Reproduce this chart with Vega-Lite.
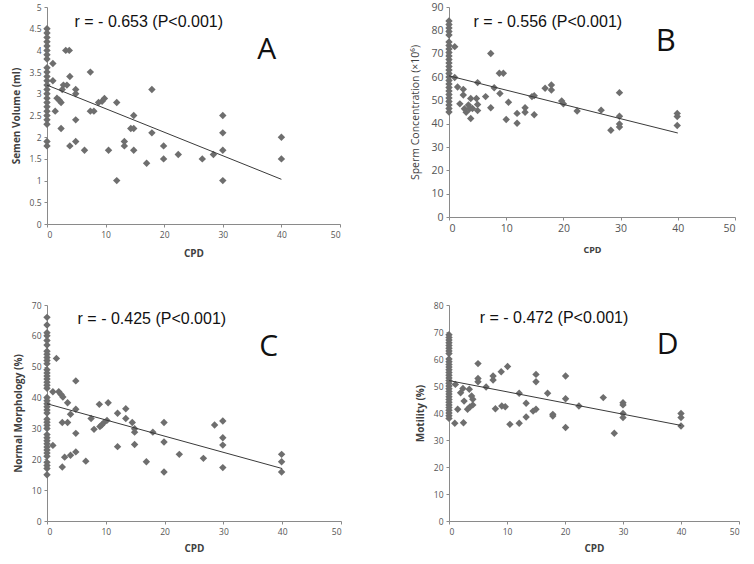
{
  "$schema": "https://vega.github.io/schema/vega-lite/v6.json",
  "background": "white",
  "padding": {"left": 11, "top": 2, "right": 4, "bottom": 4},
  "columns": 2,
  "bounds": "flush",
  "spacing": {"row": 81, "column": 108},
  "config": {
    "view": {"stroke": null},
    "axis": {
      "grid": false,
      "domainColor": "#8a8a8a",
      "tickColor": "#8a8a8a",
      "tickSize": 3,
      "labelColor": "#555555",
      "labelFont": "Open Sans",
      "labelFontSize": 8.5,
      "labelPadding": 3,
      "titleFont": "Open Sans",
      "titleFontSize": 10,
      "titleFontWeight": "bold",
      "titleColor": "#404040"
    },
    "point": {"shape": "diamond", "filled": true, "size": 55, "color": "#6e6e6e", "opacity": 1},
    "line": {"color": "#3a3a3a", "strokeWidth": 1}
  },
  "concat": [
    {
      "width": 293,
      "height": 217,
      "encoding": {
        "x": {"field": "cpd", "type": "quantitative", "scale": {"domain": [0, 50]}, "axis": {"values": [0, 10, 20, 30, 40, 50], "title": "CPD", "titlePadding": 10}},
        "y": {"field": "v", "type": "quantitative", "scale": {"domain": [0, 5]}, "axis": {"values": [0, 0.5, 1, 1.5, 2, 2.5, 3, 3.5, 4, 4.5, 5], "format": "~g", "title": "Semen Volume (ml)", "titlePadding": 8}}
      },
      "layer": [
        {
          "data": {"values": [
            {"cpd": 0, "v": 4.5}, {"cpd": 0, "v": 4.4}, {"cpd": 0, "v": 4.3}, {"cpd": 0, "v": 4.2}, {"cpd": 0, "v": 4.1},
            {"cpd": 0, "v": 4.0}, {"cpd": 0, "v": 3.9}, {"cpd": 0, "v": 3.8}, {"cpd": 0, "v": 3.6}, {"cpd": 0, "v": 3.5},
            {"cpd": 0, "v": 3.4}, {"cpd": 0, "v": 3.3}, {"cpd": 0, "v": 3.2}, {"cpd": 0, "v": 3.1}, {"cpd": 0, "v": 3.0},
            {"cpd": 0, "v": 2.9}, {"cpd": 0, "v": 2.8}, {"cpd": 0, "v": 2.7}, {"cpd": 0, "v": 2.6}, {"cpd": 0, "v": 2.5},
            {"cpd": 0, "v": 2.4}, {"cpd": 0, "v": 2.3}, {"cpd": 0, "v": 1.9}, {"cpd": 0, "v": 1.8},
            {"cpd": 1, "v": 3.7}, {"cpd": 1, "v": 3.3}, {"cpd": 1.4, "v": 2.6}, {"cpd": 1.7, "v": 2.9}, {"cpd": 2.1, "v": 2.85},
            {"cpd": 2.4, "v": 2.8}, {"cpd": 2.4, "v": 2.2}, {"cpd": 2.6, "v": 3.1}, {"cpd": 2.8, "v": 3.2}, {"cpd": 3.4, "v": 3.2},
            {"cpd": 3.2, "v": 4.0}, {"cpd": 3.8, "v": 4.0}, {"cpd": 3.9, "v": 3.4}, {"cpd": 3.9, "v": 1.8}, {"cpd": 4.9, "v": 3.1},
            {"cpd": 4.9, "v": 3.0}, {"cpd": 4.9, "v": 2.4}, {"cpd": 4.9, "v": 1.9}, {"cpd": 6.4, "v": 1.7}, {"cpd": 7.4, "v": 3.5},
            {"cpd": 7.4, "v": 2.6}, {"cpd": 8, "v": 2.6}, {"cpd": 8.8, "v": 2.8}, {"cpd": 9.4, "v": 2.83}, {"cpd": 9.8, "v": 2.89},
            {"cpd": 10.5, "v": 1.7}, {"cpd": 11.9, "v": 2.8}, {"cpd": 11.9, "v": 1.0}, {"cpd": 13.2, "v": 1.9}, {"cpd": 13.2, "v": 1.8},
            {"cpd": 14.3, "v": 2.2}, {"cpd": 14.8, "v": 2.5}, {"cpd": 14.8, "v": 2.2}, {"cpd": 14.8, "v": 1.7}, {"cpd": 17, "v": 1.4},
            {"cpd": 17.9, "v": 3.1}, {"cpd": 17.9, "v": 2.1}, {"cpd": 19.9, "v": 1.8}, {"cpd": 19.9, "v": 1.5}, {"cpd": 22.4, "v": 1.6},
            {"cpd": 26.5, "v": 1.5}, {"cpd": 28.4, "v": 1.6}, {"cpd": 30, "v": 2.5}, {"cpd": 30, "v": 2.1}, {"cpd": 30, "v": 1.7},
            {"cpd": 30, "v": 1.0}, {"cpd": 40, "v": 2.0}, {"cpd": 40, "v": 1.5}
          ]},
          "mark": {"type": "point"}
        },
        {
          "data": {"values": [{"cpd": 0, "v": 3.2}, {"cpd": 40, "v": 1.03}]},
          "mark": {"type": "line"}
        },
        {
          "data": {"values": [{"cpd": 4.7, "v": 4.65, "t": "r = - 0.653 (P<0.001)"}]},
          "mark": {"type": "text", "align": "left", "baseline": "middle", "font": "Liberation Sans", "fontSize": 16, "color": "#111111"},
          "encoding": {"text": {"field": "t"}}
        },
        {
          "data": {"values": [{"cpd": 37.5, "v": 4.0, "t": "A"}]},
          "mark": {"type": "text", "align": "center", "baseline": "middle", "font": "Open Sans", "fontSize": 30, "color": "#111111"},
          "encoding": {"text": {"field": "t"}}
        }
      ]
    },
    {
      "width": 286,
      "height": 210,
      "encoding": {
        "x": {"field": "cpd", "type": "quantitative", "scale": {"domain": [0, 50]}, "axis": {"values": [0, 10, 20, 30, 40, 50], "title": "CPD", "titlePadding": 12, "labelFontSize": 10.5, "titleFontSize": 9}},
        "y": {"field": "v", "type": "quantitative", "scale": {"domain": [0, 90]}, "axis": {"values": [0, 10, 20, 30, 40, 50, 60, 70, 80, 90], "title": "Sperm Concentration (×10⁶)", "titlePadding": 10, "labelFontSize": 10.5, "titleFontWeight": "normal", "titleFontSize": 10.5}}
      },
      "layer": [
        {
          "data": {"values": [
            {"cpd": 0, "v": 84}, {"cpd": 0, "v": 82.5}, {"cpd": 0, "v": 81}, {"cpd": 0, "v": 79.5}, {"cpd": 0, "v": 78},
            {"cpd": 0, "v": 75}, {"cpd": 0, "v": 73.5}, {"cpd": 0, "v": 72}, {"cpd": 0, "v": 70.5}, {"cpd": 0, "v": 69},
            {"cpd": 0, "v": 67.5}, {"cpd": 0, "v": 66}, {"cpd": 0, "v": 64.5}, {"cpd": 0, "v": 63}, {"cpd": 0, "v": 61.5},
            {"cpd": 0, "v": 60}, {"cpd": 0, "v": 58.5}, {"cpd": 0, "v": 57}, {"cpd": 0, "v": 55.5}, {"cpd": 0, "v": 54},
            {"cpd": 0, "v": 52.5}, {"cpd": 0, "v": 51}, {"cpd": 0, "v": 49.5}, {"cpd": 0, "v": 48}, {"cpd": 0, "v": 46.5},
            {"cpd": 0, "v": 45},
            {"cpd": 1, "v": 73}, {"cpd": 1, "v": 59.8}, {"cpd": 1.5, "v": 55.7}, {"cpd": 1.9, "v": 48.5}, {"cpd": 2.5, "v": 54.7},
            {"cpd": 2.5, "v": 52.3}, {"cpd": 2.7, "v": 46.4}, {"cpd": 3.0, "v": 44.9}, {"cpd": 3.4, "v": 48}, {"cpd": 3.6, "v": 46.4},
            {"cpd": 3.8, "v": 42.2}, {"cpd": 3.8, "v": 50.8}, {"cpd": 4.1, "v": 46.5}, {"cpd": 4.8, "v": 50.8}, {"cpd": 5, "v": 57.6},
            {"cpd": 5, "v": 48.2}, {"cpd": 5, "v": 45.6}, {"cpd": 6.4, "v": 51.6}, {"cpd": 7.3, "v": 70.1}, {"cpd": 7.3, "v": 46.8},
            {"cpd": 7.9, "v": 55.4}, {"cpd": 8.8, "v": 61.6}, {"cpd": 9.5, "v": 61.6}, {"cpd": 8.9, "v": 52.9}, {"cpd": 10, "v": 41.8},
            {"cpd": 10.4, "v": 49.2}, {"cpd": 11.9, "v": 44.4}, {"cpd": 11.9, "v": 40.2}, {"cpd": 13.3, "v": 46.8}, {"cpd": 13.3, "v": 44.9},
            {"cpd": 14.5, "v": 51.6}, {"cpd": 14.9, "v": 52}, {"cpd": 14.9, "v": 43.8}, {"cpd": 16.8, "v": 55.2}, {"cpd": 17.9, "v": 56.6},
            {"cpd": 17.9, "v": 54.4}, {"cpd": 19.7, "v": 49.7}, {"cpd": 20, "v": 48.5}, {"cpd": 22.4, "v": 45.4}, {"cpd": 26.6, "v": 45.8},
            {"cpd": 28.3, "v": 37.2}, {"cpd": 29.8, "v": 53.3}, {"cpd": 29.8, "v": 43.2}, {"cpd": 29.8, "v": 39.9}, {"cpd": 29.8, "v": 38.6},
            {"cpd": 39.9, "v": 44.4}, {"cpd": 39.9, "v": 43.1}, {"cpd": 39.9, "v": 39.2}
          ]},
          "mark": {"type": "point"}
        },
        {
          "data": {"values": [{"cpd": 0, "v": 60.5}, {"cpd": 40, "v": 36}]},
          "mark": {"type": "line"}
        },
        {
          "data": {"values": [{"cpd": 4.3, "v": 83.5, "t": "r = - 0.556 (P<0.001)"}]},
          "mark": {"type": "text", "align": "left", "baseline": "middle", "font": "Liberation Sans", "fontSize": 16, "color": "#111111"},
          "encoding": {"text": {"field": "t"}}
        },
        {
          "data": {"values": [{"cpd": 37.9, "v": 75.2, "t": "B"}]},
          "mark": {"type": "text", "align": "center", "baseline": "middle", "font": "Open Sans", "fontSize": 31, "color": "#111111"},
          "encoding": {"text": {"field": "t"}}
        }
      ]
    },
    {
      "width": 294,
      "height": 216,
      "encoding": {
        "x": {"field": "cpd", "type": "quantitative", "scale": {"domain": [0, 50]}, "axis": {"values": [0, 10, 20, 30, 40, 50], "title": "CPD", "titlePadding": 8}},
        "y": {"field": "v", "type": "quantitative", "scale": {"domain": [0, 70]}, "axis": {"values": [0, 10, 20, 30, 40, 50, 60, 70], "title": "Normal Morphology (%)", "titlePadding": 8}}
      },
      "layer": [
        {
          "data": {"values": [
            {"cpd": 0, "v": 66}, {"cpd": 0, "v": 63.5}, {"cpd": 0, "v": 61}, {"cpd": 0, "v": 60}, {"cpd": 0, "v": 58.5},
            {"cpd": 0, "v": 57}, {"cpd": 0, "v": 55}, {"cpd": 0, "v": 54}, {"cpd": 0, "v": 53}, {"cpd": 0, "v": 52},
            {"cpd": 0, "v": 51}, {"cpd": 0, "v": 49}, {"cpd": 0, "v": 48}, {"cpd": 0, "v": 47}, {"cpd": 0, "v": 46},
            {"cpd": 0, "v": 45}, {"cpd": 0, "v": 44}, {"cpd": 0, "v": 43}, {"cpd": 0, "v": 40}, {"cpd": 0, "v": 39},
            {"cpd": 0, "v": 38}, {"cpd": 0, "v": 37}, {"cpd": 0, "v": 36}, {"cpd": 0, "v": 35}, {"cpd": 0, "v": 33},
            {"cpd": 0, "v": 32}, {"cpd": 0, "v": 31}, {"cpd": 0, "v": 30}, {"cpd": 0, "v": 28}, {"cpd": 0, "v": 27},
            {"cpd": 0, "v": 26}, {"cpd": 0, "v": 25}, {"cpd": 0, "v": 24}, {"cpd": 0, "v": 23}, {"cpd": 0, "v": 22},
            {"cpd": 0, "v": 21}, {"cpd": 0, "v": 19}, {"cpd": 0, "v": 18}, {"cpd": 0, "v": 17}, {"cpd": 0, "v": 15},
            {"cpd": 1, "v": 24.5}, {"cpd": 1, "v": 41.9}, {"cpd": 1.6, "v": 52.7}, {"cpd": 2, "v": 41.9}, {"cpd": 2.4, "v": 41},
            {"cpd": 2.7, "v": 40.2}, {"cpd": 2.6, "v": 31.9}, {"cpd": 2.6, "v": 17.5}, {"cpd": 3, "v": 20.7}, {"cpd": 3.5, "v": 38.3},
            {"cpd": 3.5, "v": 31.9}, {"cpd": 4, "v": 34.6}, {"cpd": 4, "v": 21.3}, {"cpd": 4.9, "v": 45.4}, {"cpd": 4.9, "v": 36.2},
            {"cpd": 4.9, "v": 28.4}, {"cpd": 4.9, "v": 22.4}, {"cpd": 6.6, "v": 19.4}, {"cpd": 7.5, "v": 33.2}, {"cpd": 8, "v": 29.7},
            {"cpd": 8.9, "v": 37.8}, {"cpd": 9, "v": 30.6}, {"cpd": 9.3, "v": 31.1}, {"cpd": 9.7, "v": 31.9}, {"cpd": 10.2, "v": 32.6},
            {"cpd": 10.4, "v": 38.3}, {"cpd": 12, "v": 34.9}, {"cpd": 12, "v": 24.1}, {"cpd": 13.4, "v": 36.4}, {"cpd": 13.4, "v": 33.2},
            {"cpd": 14.5, "v": 31.9}, {"cpd": 14.9, "v": 29.9}, {"cpd": 14.9, "v": 28.8}, {"cpd": 14.9, "v": 24.8}, {"cpd": 16.9, "v": 19.2},
            {"cpd": 18, "v": 28.8}, {"cpd": 19.9, "v": 31.9}, {"cpd": 19.9, "v": 25.6}, {"cpd": 19.9, "v": 15.9}, {"cpd": 22.5, "v": 21.6},
            {"cpd": 26.6, "v": 20.3}, {"cpd": 28.5, "v": 31.1}, {"cpd": 29.9, "v": 32.4}, {"cpd": 29.9, "v": 27}, {"cpd": 29.9, "v": 24.6},
            {"cpd": 29.9, "v": 17.3}, {"cpd": 39.9, "v": 21.6}, {"cpd": 39.9, "v": 19.2}, {"cpd": 39.9, "v": 15.9}
          ]},
          "mark": {"type": "point"}
        },
        {
          "data": {"values": [{"cpd": 0, "v": 38}, {"cpd": 40, "v": 17}]},
          "mark": {"type": "line"}
        },
        {
          "data": {"values": [{"cpd": 5.2, "v": 65.4, "t": "r = - 0.425 (P<0.001)"}]},
          "mark": {"type": "text", "align": "left", "baseline": "middle", "font": "Liberation Sans", "fontSize": 16, "color": "#111111"},
          "encoding": {"text": {"field": "t"}}
        },
        {
          "data": {"values": [{"cpd": 37.7, "v": 56.4, "t": "C"}]},
          "mark": {"type": "text", "align": "center", "baseline": "middle", "font": "Open Sans", "fontSize": 30, "color": "#111111"},
          "encoding": {"text": {"field": "t"}}
        }
      ]
    },
    {
      "width": 290,
      "height": 216,
      "encoding": {
        "x": {"field": "cpd", "type": "quantitative", "scale": {"domain": [0, 50]}, "axis": {"values": [0, 10, 20, 30, 40, 50], "title": "CPD", "titlePadding": 8}},
        "y": {"field": "v", "type": "quantitative", "scale": {"domain": [0, 80]}, "axis": {"values": [0, 10, 20, 30, 40, 50, 60, 70, 80], "title": "Motility (%)", "titlePadding": 8}}
      },
      "layer": [
        {
          "data": {"values": [
            {"cpd": 0, "v": 69}, {"cpd": 0, "v": 68}, {"cpd": 0, "v": 67}, {"cpd": 0, "v": 66}, {"cpd": 0, "v": 65},
            {"cpd": 0, "v": 64}, {"cpd": 0, "v": 63}, {"cpd": 0, "v": 62}, {"cpd": 0, "v": 60}, {"cpd": 0, "v": 59},
            {"cpd": 0, "v": 58}, {"cpd": 0, "v": 57}, {"cpd": 0, "v": 56}, {"cpd": 0, "v": 55}, {"cpd": 0, "v": 54},
            {"cpd": 0, "v": 53}, {"cpd": 0, "v": 52}, {"cpd": 0, "v": 51}, {"cpd": 0, "v": 50}, {"cpd": 0, "v": 49},
            {"cpd": 0, "v": 48}, {"cpd": 0, "v": 47}, {"cpd": 0, "v": 46}, {"cpd": 0, "v": 45}, {"cpd": 0, "v": 44},
            {"cpd": 0, "v": 43}, {"cpd": 0, "v": 42}, {"cpd": 0, "v": 41}, {"cpd": 0, "v": 40}, {"cpd": 0, "v": 39},
            {"cpd": 0, "v": 38},
            {"cpd": 1, "v": 36.2}, {"cpd": 1.1, "v": 50.6}, {"cpd": 1.5, "v": 41.4}, {"cpd": 2, "v": 47.5}, {"cpd": 2.4, "v": 49.1},
            {"cpd": 2.5, "v": 36.4}, {"cpd": 2.6, "v": 44.4}, {"cpd": 3.2, "v": 41.4}, {"cpd": 3.5, "v": 48.8}, {"cpd": 3.6, "v": 42.2},
            {"cpd": 3.9, "v": 46.3}, {"cpd": 4.1, "v": 43}, {"cpd": 4.1, "v": 45.1}, {"cpd": 5, "v": 58.3}, {"cpd": 5, "v": 52.8},
            {"cpd": 5, "v": 51.6}, {"cpd": 6.4, "v": 49.6}, {"cpd": 7.6, "v": 53.7}, {"cpd": 7.6, "v": 52.2}, {"cpd": 8, "v": 41.6},
            {"cpd": 9, "v": 55.3}, {"cpd": 9.1, "v": 42.6}, {"cpd": 9.7, "v": 42.3}, {"cpd": 10.1, "v": 57.2}, {"cpd": 10.5, "v": 35.8},
            {"cpd": 12.1, "v": 47.3}, {"cpd": 12.1, "v": 36.2}, {"cpd": 13.3, "v": 43.6}, {"cpd": 13.3, "v": 38.5}, {"cpd": 14.5, "v": 40.7},
            {"cpd": 15, "v": 41.4}, {"cpd": 15, "v": 54.3}, {"cpd": 15, "v": 51.6}, {"cpd": 17, "v": 47.3}, {"cpd": 17.9, "v": 39.5},
            {"cpd": 17.9, "v": 38.9}, {"cpd": 20.1, "v": 53.7}, {"cpd": 20.1, "v": 45.3}, {"cpd": 20.1, "v": 34.6}, {"cpd": 22.4, "v": 42.6},
            {"cpd": 26.6, "v": 45.7}, {"cpd": 28.5, "v": 32.5}, {"cpd": 30, "v": 43.8}, {"cpd": 30, "v": 43}, {"cpd": 30, "v": 39.8},
            {"cpd": 30, "v": 38.3}, {"cpd": 40, "v": 39.8}, {"cpd": 40, "v": 38.3}, {"cpd": 40, "v": 35.2}
          ]},
          "mark": {"type": "point"}
        },
        {
          "data": {"values": [{"cpd": 0, "v": 52}, {"cpd": 40, "v": 35.4}]},
          "mark": {"type": "line"}
        },
        {
          "data": {"values": [{"cpd": 5.3, "v": 75.3, "t": "r = - 0.472 (P<0.001)"}]},
          "mark": {"type": "text", "align": "left", "baseline": "middle", "font": "Liberation Sans", "fontSize": 16, "color": "#111111"},
          "encoding": {"text": {"field": "t"}}
        },
        {
          "data": {"values": [{"cpd": 37.7, "v": 65.1, "t": "D"}]},
          "mark": {"type": "text", "align": "center", "baseline": "middle", "font": "Open Sans", "fontSize": 30, "color": "#111111"},
          "encoding": {"text": {"field": "t"}}
        }
      ]
    }
  ]
}
